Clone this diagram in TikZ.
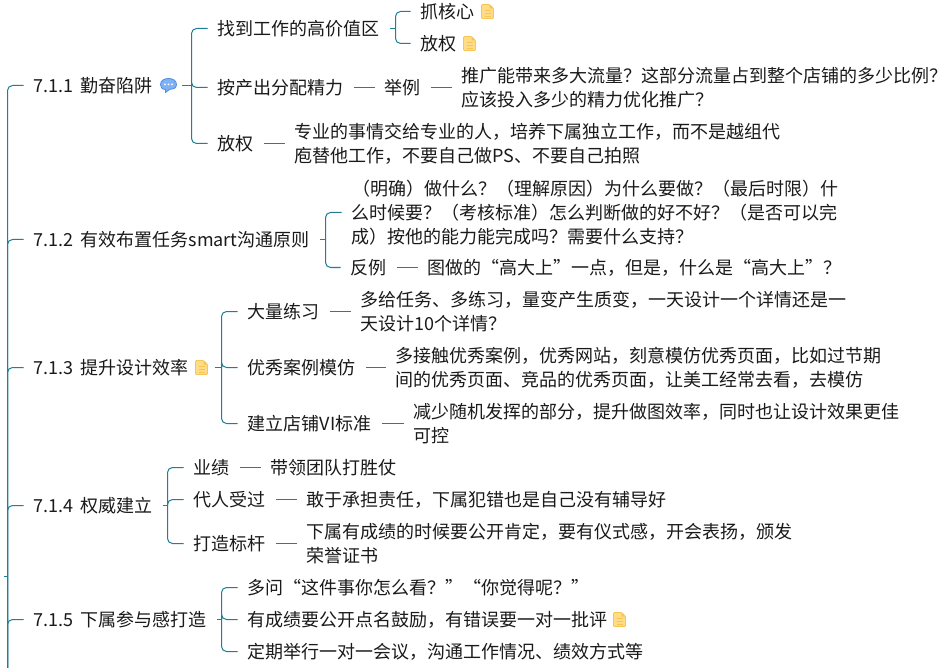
\documentclass[tikz,border=0pt]{standalone}
\usepackage{fontspec}
\setmainfont{Noto Sans CJK SC}
\definecolor{linkc}{HTML}{1F7F96}
\definecolor{textc}{HTML}{1A1A1A}
\definecolor{notefill}{HTML}{FFDC85}
\definecolor{noteedge}{HTML}{F5C556}
\definecolor{bubfill}{HTML}{7FB2F5}
\definecolor{bubedge}{HTML}{4F8BE0}
\newcommand{\numgap}{\hspace*{7pt}}
\tikzset{
  block/.style={anchor=west,xshift=-10pt,inner xsep=10pt,inner ysep=0pt,align=left,text=textc,
    font=\fontsize{18}{24}\selectfont},
  txt/.style={block,text height=16pt,text depth=2pt},
  conn/.style={draw=linkc,line width=1pt},
  elbow/.style={conn,rounded corners=5pt},
  iconbox/.style={minimum width=26pt,minimum height=16pt,inner sep=0pt},
  notepic/.pic={
    \fill[notefill,draw=noteedge,line width=.8pt,rounded corners=1pt] (-6,-7) -- (2,-7) -- (6,-3) -- (6,7) -- (-6,7) -- cycle;
    \fill[noteedge] (2,-7) -- (2,-3) -- (6,-3) -- cycle;
    \draw[noteedge,line width=.8pt] (-3,-1) -- (3,-1) (-3,2) -- (3,2) (-3,4.5) -- (3,4.5);
  },
  bubblepic/.pic={
    \fill[bubfill,draw=bubedge,line width=.8pt] (-3,5) .. controls (-7,5) and (-8,2) .. (-8,0) .. controls (-8,-4) and (-4,-6) .. (0,-6) .. controls (4,-6) and (8,-4) .. (8,0) .. controls (8,4) and (4,5) .. (1,5) -- (-3,8) -- cycle;
    \fill[white] (-3.5,0) circle (1) (0,0) circle (1) (3.5,0) circle (1);
  }
}
\begin{document}
\begin{tikzpicture}[x=1pt,y=-1pt]
\path[use as bounding box,fill=white] (0,0) rectangle (947,668);
\begin{scope}[xshift=.5pt,yshift=-.5pt]
% level 1
\node[txt] (a) at (33,85) {7.1.1\numgap 勤奋陷阱};
\node[txt] (b) at (33,239) {7.1.2\numgap 有效布置任务smart沟通原则};
\node[txt] (c) at (33,367) {7.1.3\numgap 提升设计效率};
\node[txt] (d) at (33,505) {7.1.4\numgap 权威建立};
\node[txt] (e) at (33,619) {7.1.5\numgap 下属参与感打造};
% icons
\node[iconbox] (ia) at (168,84) {}; \pic at (ia.center) {bubblepic};
\node[iconbox] (ic) at (201,367) {}; \pic at (ic.center) {notepic};
% 7.1.1
\node[txt] (a1) at (217,28) {找到工作的高价值区};
\node[txt] (a11) at (420,11) {抓核心};
\node[iconbox] (i11) at (487,11) {}; \pic at (i11.center) {notepic};
\node[txt] (a12) at (420,43) {放权};
\node[iconbox] (i12) at (469,43) {}; \pic at (i12.center) {notepic};
\node[txt] (a2) at (217,87) {按产出分配精力};
\node[txt] (a21) at (384,87) {举例};
\node[block] (a22) at (461,87) {推广能带来多大流量？这部分流量占到整个店铺的多少比例？\\应该投入多少的精力优化推广？};
\node[txt] (a3) at (217,143) {放权};
\node[block] (a31) at (294,143) {专业的事情交给专业的人，培养下属独立工作，而不是越组代\\庖替他工作，不要自己做PS、不要自己拍照};
% 7.1.2
\node[block] (b1) at (351,212) {\hspace*{1pt}（明确）做什么？（理解原因）为什么要做？（最后时限）什\\么时候要？（考核标准）怎么判断做的好不好？（是否可以完\\成）按他的能力能完成吗？需要什么支持？};
\node[txt] (b2) at (350,267) {反例};
\node[txt] (b21) at (427,267) {图做的“高大上”一点，但是，什么是“高大上”？};
% 7.1.3
\node[txt] (c1) at (247,311) {大量练习};
\node[block] (c11) at (360,311) {多给任务、多练习，量变产生质变，一天设计一个详情还是一\\天设计10个详情？};
\node[txt] (c2) at (247,367) {优秀案例模仿};
\node[block] (c21) at (395,367) {多接触优秀案例，优秀网站，刻意模仿优秀页面，比如过节期\\间的优秀页面、竞品的优秀页面，让美工经常去看，去模仿};
\node[txt] (c3) at (247,423) {建立店铺VI标准};
\node[block] (c31) at (413,423) {减少随机发挥的部分，提升做图效率，同时也让设计效果更佳\\可控};
% 7.1.4
\node[txt] (d1) at (193,467) {业绩};
\node[txt] (d11) at (270,467) {带领团队打胜仗};
\node[txt] (d2) at (193,499) {代人受过};
\node[txt] (d21) at (306,499) {敢于承担责任，下属犯错也是自己没有辅导好};
\node[txt] (d3) at (193,543) {打造标杆};
\node[block] (d31) at (306,543) {下属有成绩的时候要公开肯定，要有仪式感，开会表扬，颁发\\荣誉证书};
% 7.1.5
\node[txt] (e1) at (247,587) {多问“这件事你怎么看？”“你觉得呢？”};
\node[txt] (e2) at (247,619) {有成绩要公开点名鼓励，有错误要一对一批评};
\node[iconbox] (i2) at (619,619) {}; \pic at (i2.center) {notepic};
\node[txt] (e3) at (247,651) {定期举行一对一会议，沟通工作情况、绩效方式等};
% trunk
\coordinate (tb) at (7,668);
\coordinate (tk) at (3,576);
\draw[conn] (tk) -- (tb |- tk);
\foreach \n in {a,b,c,d,e} \draw[elbow] (tb) |- (\n.west);
% buses
\coordinate (ba) at (191,85);
\coordinate (ba1) at (395,28);
\coordinate (bb) at (325,239);
\coordinate (bc) at (221,367);
\coordinate (bd) at (167,505);
\coordinate (be) at (221,619);
\draw[conn] (ia.east |- ba) -- (ba);
\foreach \n in {a1,a2,a3} \draw[elbow] (ba) |- (\n.west);
\draw[conn] (a1.east) -- (ba1);
\foreach \n in {a11,a12} \draw[elbow] (ba1) |- (\n.west);
\draw[conn] (a2) -- (a21);
\draw[conn] (a21) -- (a22);
\draw[conn] (a3) -- (a31);
\draw[conn] (b.east) -- (bb);
\foreach \n in {b1,b2} \draw[elbow] (bb) |- (\n.west);
\draw[conn] (b2) -- (b21);
\draw[conn] (ic.east) -- (bc);
\foreach \n in {c1,c2,c3} \draw[elbow] (bc) |- (\n.west);
\draw[conn] (c1) -- (c11);
\draw[conn] (c2) -- (c21);
\draw[conn] (c3) -- (c31);
\draw[conn] (d.east) -- (bd);
\foreach \n in {d1,d2,d3} \draw[elbow] (bd) |- (\n.west);
\draw[conn] (d1) -- (d11);
\draw[conn] (d2) -- (d21);
\draw[conn] (d3) -- (d31);
\draw[conn] (e.east) -- (be);
\foreach \n in {e1,e2,e3} \draw[elbow] (be) |- (\n.west);
\end{scope}
\end{tikzpicture}
\end{document}
